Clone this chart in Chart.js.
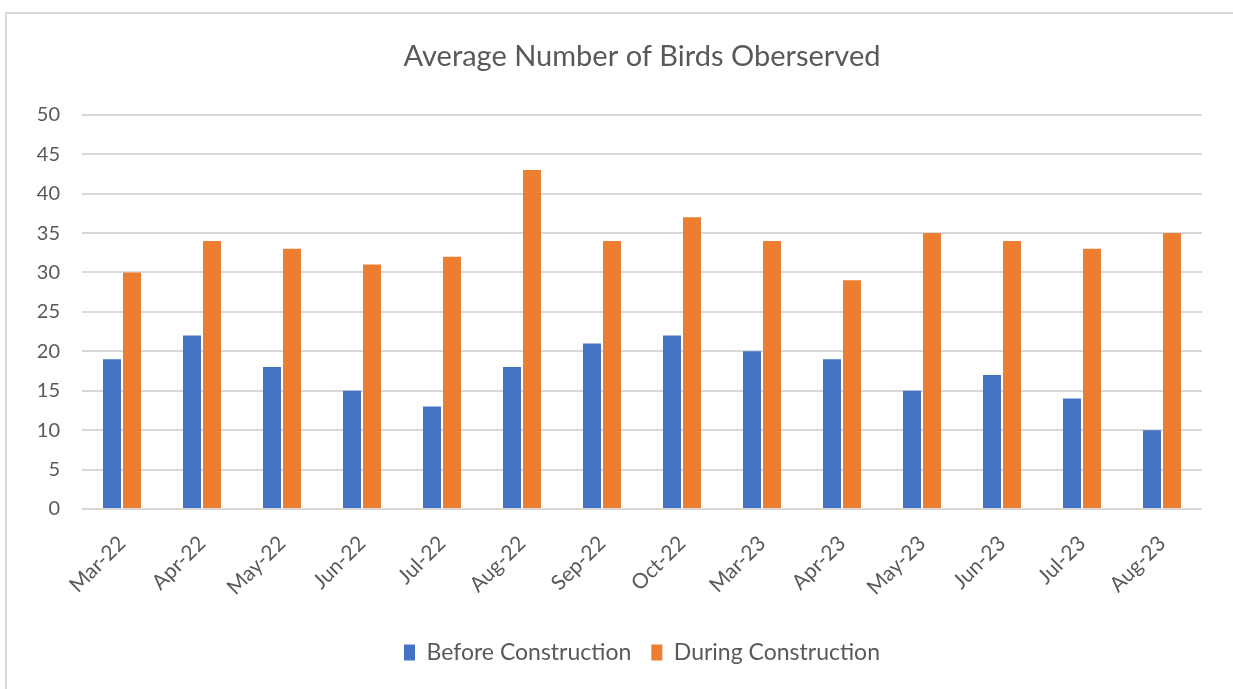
<!DOCTYPE html>
<html>
<head>
<meta charset="utf-8">
<script src="https://cdn.jsdelivr.net/npm/chart.js@4"></script>
<style>
  body { margin: 0; background: #fff; }
  #frame { position: absolute; left: 5px; top: 12px; width: 1260px; height: 700px; border: 2px solid #d9d9d9; }
  #wrap { position: absolute; left: 0; top: 0; width: 1233px; height: 689px; }
</style>
</head>
<body>
<div id="frame"></div>
<div id="wrap"><canvas id="bird-chart" width="1233" height="689"></canvas></div>
<script>
var months = ["Mar-22", "Apr-22", "May-22", "Jun-22", "Jul-22", "Aug-22", "Sep-22",
              "Oct-22", "Mar-23", "Apr-23", "May-23", "Jun-23", "Jul-23", "Aug-23"];
var beforeConstruction = [19, 22, 18, 15, 13, 18, 21, 22, 20, 19, 15, 17, 14, 10];
var duringConstruction = [30, 34, 33, 31, 32, 43, 34, 37, 34, 29, 35, 34, 33, 35];
var yMin = 0;
var yMax = 50;
var yStep = 5;

function buildBirdChart() {
    var ctx = document.getElementById('bird-chart').getContext('2d');
    var font = "Lato, 'Open Sans', sans-serif";

    new Chart(ctx, {
        type: 'bar',
        data: {
            labels: months,
            datasets: [{
                label: 'Before Construction',
                data: beforeConstruction,
                backgroundColor: '#4472C4',
                barPercentage: 0.9,
                categoryPercentage: 0.5
            }, {
                label: 'During Construction',
                data: duringConstruction,
                backgroundColor: '#ED7D31',
                barPercentage: 0.9,
                categoryPercentage: 0.5
            }]
        },
        options: {
            responsive: false,
            animation: false,
            layout: { padding: { top: 20, left: 0, right: 31, bottom: 15 } },
            plugins: {
                title: {
                    display: true,
                    fullSize: false,
                    text: 'Average Number of Birds Oberserved',
                    color: '#595959',
                    font: { family: font, size: 29, weight: 'normal' },
                    padding: { top: 19, bottom: 41 }
                },
                legend: {
                    position: 'bottom',
                    fullSize: false,
                    labels: {
                        color: '#595959',
                        font: { family: font, size: 23 },
                        boxWidth: 11,
                        boxHeight: 16,
                        padding: 20
                    }
                },
                tooltip: { enabled: false }
            },
            scales: {
                x: {
                    grid: { display: false },
                    border: { display: false },
                    ticks: {
                        color: '#595959',
                        font: { family: font, size: 21 },
                        maxRotation: 45,
                        minRotation: 45,
                        padding: 14
                    },
                    afterFit: function (scale) { scale.height = 112; }
                },
                y: {
                    min: yMin,
                    max: yMax,
                    grid: { color: '#d9d9d9', lineWidth: 2, drawTicks: false },
                    border: { display: false },
                    ticks: {
                        stepSize: yStep,
                        color: '#595959',
                        font: { family: font, size: 20 },
                        padding: 22
                    },
                    afterFit: function (scale) { scale.width = 82; }
                }
            }
        }
    });
}

buildBirdChart();
</script>
</body>
</html>
